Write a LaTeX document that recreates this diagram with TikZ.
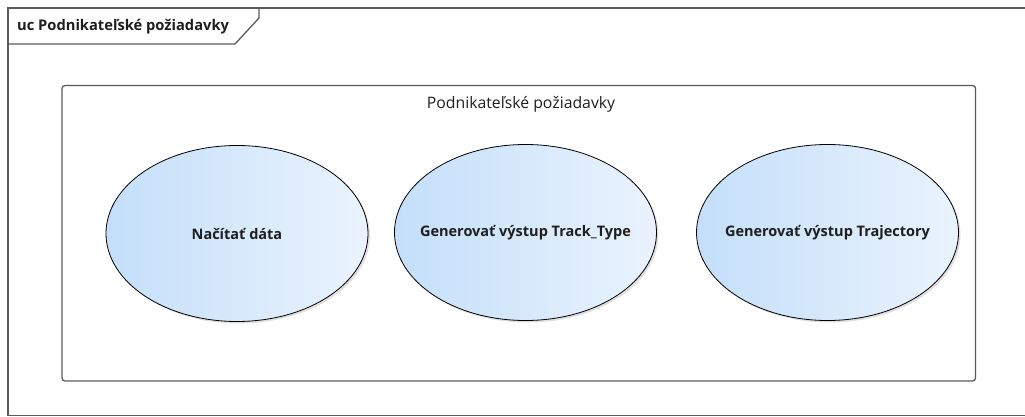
\documentclass[tikz,border=0pt]{standalone}
\usepackage{fontspec}
\setmainfont{Open Sans}
\usetikzlibrary{shapes.geometric,shadows}
\definecolor{frameline}{HTML}{5A5A5A}
\definecolor{ucleft}{HTML}{C4DFFA}
\definecolor{ucright}{HTML}{EAF3FD}
\definecolor{txt}{HTML}{1E1E1E}
\tikzset{
  usecase/.style={ellipse, draw=black, line width=0.8pt, minimum width=262pt, minimum height=176pt,
    inner sep=0pt, left color=ucleft, right color=ucright,
    drop shadow={shadow xshift=2pt, shadow yshift=-2pt, fill=black, opacity=0.12}},
  uclabel/.style={text=txt, inner sep=0pt, font=\bfseries\fontsize{14.5}{16}\selectfont},
  boundary/.style={draw=frameline, line width=1.3pt, rounded corners=3pt},
  frametab/.style={draw=frameline, line width=1.3pt},
}
\begin{document}
\begin{tikzpicture}[x=1pt,y=-1pt]
  \useasboundingbox (0,0) rectangle (1025,417);
  % diagram frame with its name tab
  \draw[frametab] (1030,8) -- (8,8) -- (8,415.5) -- (1030,415.5);
  \draw[frametab] (259,8) -- (259,18) -- (235,44) -- (8,44);
  \node[anchor=west, text=txt, font=\bfseries\fontsize{14.7}{16}\selectfont, inner sep=0pt] (title) at (17,27) {uc Podnikateľské požiadavky};
  % system boundary
  \draw[boundary] (62,85.5) rectangle (975.5,381);
  \node[text=txt, font=\fontsize{15.8}{17}\selectfont, inner sep=0pt] (sys) at (521,104) {Podnikateľské požiadavky};
  % use cases
  \node[usecase] (uc1) at (237,233.5) {};
  \node[uclabel] (uc1label) at (uc1.center) {Načítať dáta};
  \node[usecase] (uc2) at (525.5,232.5) {};
  \node[uclabel] (uc2label) at (uc2.center) {Generovať výstup Track\_Type};
  \node[usecase] (uc3) at (827.5,232.5) {};
  \node[uclabel] (uc3label) at (uc3.center) {Generovať výstup Trajectory};
\end{tikzpicture}
\end{document}
